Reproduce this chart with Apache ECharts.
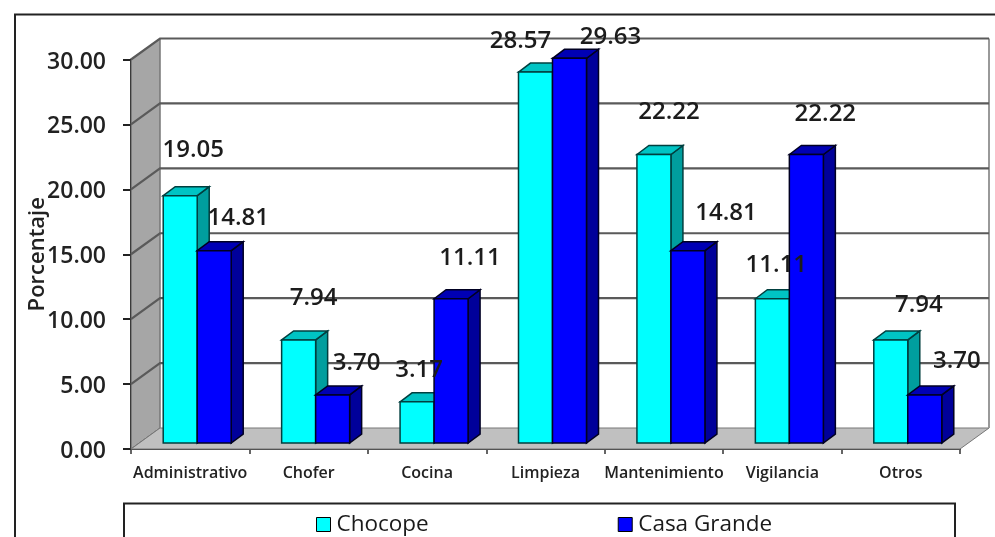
<!DOCTYPE html>
<html>
<head>
<meta charset="utf-8">
<style>html,body{margin:0;padding:0;background:#fff}#chart{width:995px;height:537px}</style>
<script src="https://cdn.jsdelivr.net/npm/echarts@6/dist/echarts.min.js"></script>
</head>
<body>
<div id="chart"></div>
<script>
const categories = ['Administrativo', 'Chofer', 'Cocina', 'Limpieza', 'Mantenimiento', 'Vigilancia', 'Otros'];
const chocope = [19.05, 7.94, 3.17, 28.57, 22.22, 11.11, 7.94];
const casaGrande = [14.81, 3.70, 11.11, 29.63, 14.81, 22.22, 3.70];
const yTicks = [0, 5, 10, 15, 20, 25, 30];

// Hand-placed label nudges, measured from the middle of each bar's top edge
const chocopeLabelOffsets = [[13, -46], [15, -42], [2, -32], [-15, -31], [15, -42], [4, -34], [28, -35]];
const casaLabelOffsets = [[24, -33], [24, -32], [19, -41], [41, -21], [38, -38], [19, -40], [32, -34]];

const FONT = '"Open Sans", "Noto Sans", sans-serif';
const WALL = { dx: 29, dy: -21 };      // depth of the whole chart box
const BAR_SHIFT = { dx: 7, dy: -6 };   // bars stand part-way back on the floor
const BAR_DEPTH = { dx: 12, dy: -9 };
const BAR_WIDTH = 34;

function plotBounds(params) {
  const r = params.coordSys;
  return { left: r.x, right: r.x + r.width, top: r.y, bottom: r.y + r.height };
}

// Side wall, floor and the gridlines that fold around them
function renderBox(params, api) {
  const b = plotBounds(params);
  const y = api.coord([0, api.value(0)])[1];
  const children = [];
  if (params.dataIndex === 0) {
    children.push({
      type: 'polygon', z2: 1,
      shape: { points: [[b.left, b.bottom], [b.left + WALL.dx, b.bottom + WALL.dy], [b.left + WALL.dx, b.top + WALL.dy], [b.left, b.top]] },
      style: { fill: '#a6a6a6', stroke: '#555', lineWidth: 1 }
    }, {
      type: 'polygon', z2: 1,
      shape: { points: [[b.left, b.bottom], [b.left + WALL.dx, b.bottom + WALL.dy], [b.right + WALL.dx, b.bottom + WALL.dy], [b.right, b.bottom]] },
      style: { fill: '#c0c0c0', stroke: '#777', lineWidth: 1 }
    }, {
      type: 'line', z2: 2,
      shape: { x1: b.right + WALL.dx, y1: b.top + WALL.dy, x2: b.right + WALL.dx, y2: b.bottom + WALL.dy },
      style: { stroke: '#999', lineWidth: 2 }
    }, {
      type: 'line', z2: 2,
      shape: { x1: b.left + WALL.dx, y1: b.top + WALL.dy, x2: b.left + WALL.dx, y2: b.bottom + WALL.dy },
      style: { stroke: '#888', lineWidth: 1 }
    });
  }
  if (params.dataIndex > 0) {
    children.push({
      type: 'polyline', z2: 3,
      shape: { points: [[b.left, y], [b.left + WALL.dx, y + WALL.dy], [b.right + WALL.dx, y + WALL.dy]] },
      style: { stroke: '#5a5a5a', lineWidth: 2.2, fill: null }
    });
  }
  return { type: 'group', children };
}

// One prism: front face plus top and right faces
function barRenderer(side, colors) {
  return function (params, api) {
    const top = api.coord([api.value(0), api.value(1)]);
    const base = api.coord([api.value(0), 0]);
    const xL = top[0] + BAR_SHIFT.dx + (side < 0 ? -BAR_WIDTH : 0);
    const xR = xL + BAR_WIDTH;
    const yT = top[1] + BAR_SHIFT.dy;
    const yB = base[1] + BAR_SHIFT.dy;
    const d = BAR_DEPTH;
    const edge = { stroke: colors.edge, lineWidth: 1.5 };
    return {
      type: 'group',
      children: [
        { type: 'polygon', shape: { points: [[xR, yT], [xR + d.dx, yT + d.dy], [xR + d.dx, yB + d.dy], [xR, yB]] }, style: { fill: colors.side, ...edge } },
        { type: 'polygon', shape: { points: [[xL, yT], [xL + d.dx, yT + d.dy], [xR + d.dx, yT + d.dy], [xR, yT]] }, style: { fill: colors.top, ...edge } },
        { type: 'rect', shape: { x: xL, y: yT, width: BAR_WIDTH, height: yB - yT }, style: { fill: colors.front, ...edge } }
      ]
    };
  };
}

function labelRenderer(side, offsets) {
  return function (params, api) {
    const pos = api.coord([api.value(0), api.value(1)]);
    const off = offsets[params.dataIndex];
    return {
      type: 'text',
      x: pos[0] + BAR_SHIFT.dx + side * BAR_WIDTH / 2 + off[0],
      y: pos[1] + BAR_SHIFT.dy + off[1],
      style: {
        text: api.value(1).toFixed(2),
        x: 0, y: 0, align: 'center', verticalAlign: 'middle',
        font: '600 24px ' + FONT, fill: '#1c1c1c'
      }
    };
  };
}

const pairs = vals => vals.map((v, i) => [i, v]);
const cyan = { front: '#00ffff', top: '#00c4c4', side: '#009e9e', edge: '#003f3f' };
const blue = { front: '#0000ff', top: '#0000b4', side: '#00009a', edge: '#000022' };

const chart = echarts.init(document.getElementById('chart'));
chart.setOption({
  animation: false,
  backgroundColor: '#fff',
  grid: { left: 131, right: 35, top: 59.5, bottom: 88, containLabel: false },
  xAxis: {
    type: 'category', data: categories,
    axisLine: { show: true, onZero: false, lineStyle: { color: '#333', width: 2 } },
    axisTick: { show: true, alignWithLabel: false, length: 5, lineStyle: { color: '#333', width: 1.5 } },
    axisLabel: { color: '#222', fontFamily: FONT, fontWeight: 600, fontSize: 16, margin: 16, interval: 0 },
    splitLine: { show: false }
  },
  yAxis: {
    type: 'value', min: 0, max: 30, interval: 5,
    name: 'Porcentaje', nameLocation: 'middle', nameRotate: 90, nameGap: 82, nameMoveOverlap: false,
    nameTextStyle: { color: '#222', fontFamily: FONT, fontWeight: 600, fontSize: 22 },
    axisLine: { show: true, lineStyle: { color: '#222', width: 2 } },
    axisTick: { show: true, length: 8, lineStyle: { color: '#222', width: 2 } },
    axisLabel: {
      color: '#222', fontFamily: FONT, fontWeight: 600, fontSize: 23, margin: 25,
      verticalAlign: 'top', lineHeight: 5, formatter: v => v.toFixed(2)
    },
    splitLine: { show: false }
  },
  legend: {
    left: 311, top: 508, itemGap: 189, itemWidth: 14, itemHeight: 14, icon: 'rect',
    data: ['Chocope', 'Casa Grande'],
    textStyle: { color: '#1a1a1a', fontFamily: FONT, fontWeight: 500, fontSize: 22.5, padding: [0, 0, 0, 1] },
    itemStyle: { borderColor: '#000', borderWidth: 1 }
  },
  graphic: [
    { type: 'polyline', z: 0, shape: { points: [[15, 537], [15, 14.5], [995, 14.5]] }, style: { stroke: '#222', lineWidth: 2, fill: null } },
    { type: 'polyline', z: 0, shape: { points: [[124, 537], [124, 503.5], [955, 503.5], [955, 537]] }, style: { stroke: '#222', lineWidth: 2, fill: null } }
  ],
  series: [
    { type: 'custom', name: 'box', z: 1, silent: true, clip: false, renderItem: renderBox, data: yTicks.map(t => [t]), encode: { y: 0 } },
    { type: 'custom', name: 'Chocope', z: 3, clip: false, renderItem: barRenderer(-1, cyan), data: pairs(chocope), encode: { x: 0, y: 1 }, itemStyle: { color: cyan.front } },
    { type: 'custom', name: 'Casa Grande', z: 4, clip: false, renderItem: barRenderer(1, blue), data: pairs(casaGrande), encode: { x: 0, y: 1 }, itemStyle: { color: blue.front } },
    { type: 'custom', name: 'chocopeLabels', z: 5, silent: true, clip: false, renderItem: labelRenderer(-1, chocopeLabelOffsets), data: pairs(chocope), encode: { x: 0, y: 1 } },
    { type: 'custom', name: 'casaLabels', z: 5, silent: true, clip: false, renderItem: labelRenderer(1, casaLabelOffsets), data: pairs(casaGrande), encode: { x: 0, y: 1 } }
  ]
});
</script>
</body>
</html>
